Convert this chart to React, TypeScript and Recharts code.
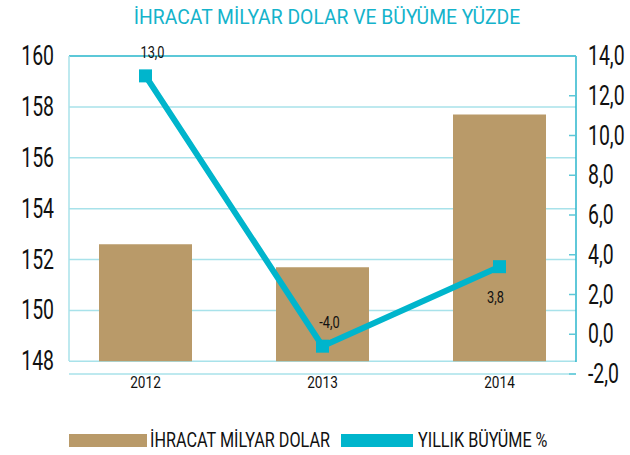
import {
  ComposedChart,
  Bar,
  Line,
  XAxis,
  YAxis,
  CartesianGrid,
  ReferenceLine,
  LabelList,
  Legend,
} from "recharts";

const years = ["2012", "2013", "2014"];
// ihracat, milyar dolar
const exportsBn = [152.6, 151.7, 157.7];
// printed growth labels (%)
const growthRate = [13.0, -4.0, 3.8];
// where the source actually draws the growth markers on the right axis
const growthMarker = [13.0, -0.6, 3.4];
const leftTicks = [148, 150, 152, 154, 156, 158, 160];
const rightTicks = [-2, 0, 2, 4, 6, 8, 10, 12, 14];

const data = years.map((year, i) => ({
  year,
  exports: exportsBn[i],
  growth: growthMarker[i],
  growthLabel: growthRate[i],
}));

const FONT = "Roboto, 'DejaVu Sans', sans-serif";
const TAN = "#b99a69";
const CYAN = "#00b5cc";
const GRID = "#a8e2ea";

const fmt = (v: number) => v.toFixed(1).replace(".", ",");

// condensed text: squeeze horizontally around the anchor point
const NarrowText = ({ x, y, anchor, size, sx, children, dy = 0 }: any) => (
  <g transform={`translate(${x},${y}) scale(${sx},1)`}>
    <text x={0} y={0} dy={dy} textAnchor={anchor} fontFamily={FONT} fontSize={size} fill="#111">
      {children}
    </text>
  </g>
);

const LeftTick = (props: any) => {
  const { x, y, payload } = props;
  return (
    <NarrowText x={x} y={y} anchor="end" size={27} sx={0.72} dy={9}>
      {payload.value}
    </NarrowText>
  );
};

const RightTick = (props: any) => {
  const { x, y, payload } = props;
  return (
    <NarrowText x={x} y={y} anchor="start" size={27} sx={0.72} dy={9}>
      {fmt(payload.value)}
    </NarrowText>
  );
};

const YearTick = (props: any) => {
  const { x, y, payload } = props;
  return (
    <NarrowText x={x} y={y} anchor="middle" size={17} sx={0.8} dy={13}>
      {payload.value}
    </NarrowText>
  );
};

const SquareDot = (props: any) => {
  const { cx, cy } = props;
  if (cx == null || cy == null) return null;
  return <rect x={cx - 6.5} y={cy - 6.5} width={13} height={13} fill={CYAN} />;
};

const GrowthLabel = (props: any) => {
  const { x, y, value, index } = props;
  const below = index === data.length - 1;
  return (
    <NarrowText x={below ? x - 4 : x + 7} y={below ? y + 36 : y - 18} anchor="middle" size={16} sx={0.8}>
      {fmt(Number(value))}
    </NarrowText>
  );
};

const narrow = { display: "inline-block", transform: "scaleX(0.81)", transformOrigin: "left center", whiteSpace: "nowrap" } as const;

const LegendContent = () => (
  <div style={{ display: "flex", alignItems: "center", fontFamily: FONT, fontSize: 20, color: "#111" }}>
    <span style={{ display: "inline-block", width: 78, height: 13, background: TAN, marginRight: 3 }} />
    <span style={{ ...narrow, width: 191 }}>İHRACAT MİLYAR DOLAR</span>
    <span style={{ display: "inline-block", width: 72, height: 13, background: CYAN, marginRight: 5 }} />
    <span style={narrow}>YILLIK BÜYÜME %</span>
  </div>
);

export default function App() {
  return (
    <div style={{ position: "absolute", left: 0, top: 0, width: 630, height: 455, background: "#fff" }}>
      <div
        style={{
          position: "absolute",
          top: 5,
          left: 7,
          width: 640,
          textAlign: "center",
          fontFamily: FONT,
          fontSize: 21,
          color: "#14b3cb",
          transform: "scaleX(0.92)",
          transformOrigin: "320px center",
          whiteSpace: "nowrap",
        }}
      >
        İHRACAT MİLYAR DOLAR VE BÜYÜME YÜZDE
      </div>
      <ComposedChart
        width={630}
        height={455}
        data={data}
        margin={{ top: 56, right: 0, left: 0, bottom: 51 }}
        style={{ position: "absolute", left: 0, top: 0 }}
      >
        <CartesianGrid yAxisId="left" vertical={false} stroke={GRID} strokeWidth={1.5} />
        <XAxis
          dataKey="year"
          height={30}
          axisLine={false}
          tickLine={false}
          tickSize={0}
          tickMargin={1}
          padding={{ left: -12, right: -12 }}
          tick={<YearTick />}
        />
        <YAxis
          yAxisId="left"
          orientation="left"
          width={69}
          domain={[147.5, 160]}
          ticks={leftTicks}
          interval={0}
          allowDataOverflow
          axisLine={{ stroke: GRID, strokeWidth: 1.5, strokeDasharray: "305 100" }}
          tickLine={false}
          tickMargin={9}
          tick={<LeftTick />}
        />
        <YAxis
          yAxisId="right"
          orientation="right"
          width={54}
          domain={[-2, 14]}
          ticks={rightTicks}
          interval={0}
          allowDataOverflow
          axisLine={{ stroke: "#2ab6cc", strokeWidth: 1.5, strokeDasharray: "306 100" }}
          tickLine={{ stroke: "#5cc7d7", strokeWidth: 1.5 }}
          tickSize={-7}
          tickMargin={19}
          tick={<RightTick />}
        />
        <ReferenceLine yAxisId="left" y={160} stroke="#3bbdd0" strokeWidth={1.5} />
        <Bar
          yAxisId="left"
          dataKey={(d: any) => [leftTicks[0], d.exports]}
          name="exports"
          fill={TAN}
          barSize={93}
          isAnimationActive={false}
        />
        <Line
          yAxisId="right"
          type="linear"
          dataKey="growth"
          stroke={CYAN}
          strokeWidth={6}
          dot={<SquareDot />}
          activeDot={false}
          isAnimationActive={false}
        >
          <LabelList dataKey="growthLabel" content={<GrowthLabel />} />
        </Line>
        <Legend
          layout="horizontal"
          verticalAlign="middle"
          align="center"
          content={<LegendContent />}
          wrapperStyle={{ position: "absolute", top: 428, left: 69, width: 560 }}
        />
      </ComposedChart>
    </div>
  );
}
